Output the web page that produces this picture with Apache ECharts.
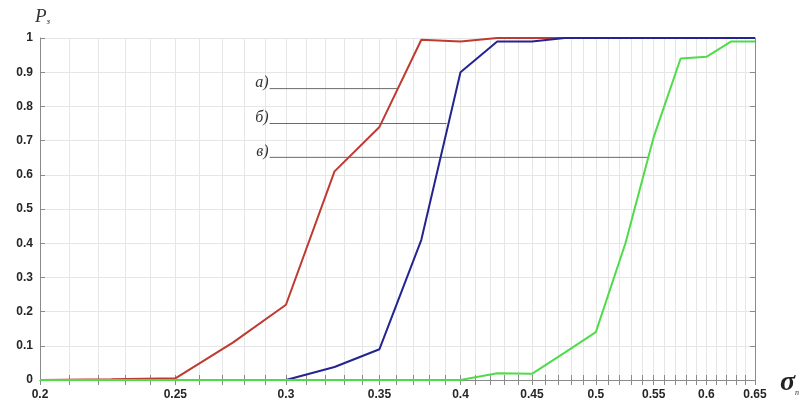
<!DOCTYPE html>
<html>
<head>
<meta charset="utf-8">
<script src="https://cdn.jsdelivr.net/npm/echarts@6/dist/echarts.min.js"></script>
<style>html,body{margin:0;padding:0;background:#fff}#c{width:803px;height:401px}</style>
</head>
<body>
<div id="c"></div>
<script>
// x values (sigma_n), log-spaced axis
const xValues = [0.2, 0.225, 0.25, 0.275, 0.3, 0.325, 0.35, 0.375, 0.4, 0.425, 0.45, 0.475, 0.5, 0.525, 0.55, 0.575, 0.6, 0.625, 0.65];
const seriesA = [0, 0.002, 0.005, 0.11, 0.22, 0.61, 0.74, 0.995, 0.99, 1.0, 1.0, 1.0, 1.0, 1.0, 1.0, 1.0, 1.0, 1.0, 1.0];
const seriesB = [0, 0, 0, 0, 0, 0.038, 0.09, 0.41, 0.90, 0.99, 0.99, 1.0, 1.0, 1.0, 1.0, 1.0, 1.0, 1.0, 1.0];
const seriesC = [0, 0, 0, 0, 0, 0, 0, 0, 0, 0.02, 0.018, 0.08, 0.14, 0.40, 0.71, 0.94, 0.945, 0.99, 0.99];
const xTickLabels = [0.2, 0.25, 0.3, 0.35, 0.4, 0.45, 0.5, 0.55, 0.6, 0.65];
const yTickLabels = [0, 0.1, 0.2, 0.3, 0.4, 0.5, 0.6, 0.7, 0.8, 0.9, 1];
// annotation leader lines: [label, y, xStart, xEnd]
const annotations = [
  ['а)', 0.852, 0.292, 0.361],
  ['б)', 0.750, 0.292, 0.391],
  ['в)', 0.651, 0.292, 0.545]
];
const minorTicks = [];
for (let i = 20; i <= 65; i++) minorTicks.push(i / 100);

const pair = (ys) => xValues.map((x, i) => [x, ys[i]]);
const lineStyleBase = { width: 2 };
const series = [];
annotations.forEach(a => {
  series.push({
    type: 'line', xAxisIndex: 0, yAxisIndex: 0, symbol: 'none', silent: true,
    data: [[a[2], a[1]], [a[3], a[1]]],
    lineStyle: { color: '#6a6a6a', width: 1 },
    z: 1,
    markPoint: {
      symbol: 'circle', symbolSize: 0,
      data: [{ coord: [a[2], a[1]], value: a[0] }],
      label: {
        show: true, formatter: a[0], position: 'left', distance: 1, offset: [0, -6],
        fontFamily: 'Liberation Serif', fontStyle: 'italic', fontSize: 16, color: '#333'
      }
    }
  });
});
series.push({ type: 'line', symbol: 'none', data: pair(seriesA), lineStyle: Object.assign({ color: '#bf3a30' }, lineStyleBase), z: 3 });
series.push({ type: 'line', symbol: 'none', data: pair(seriesB), lineStyle: Object.assign({ color: '#24248f' }, lineStyleBase), z: 4 });
series.push({ type: 'line', symbol: 'none', data: pair(seriesC), lineStyle: Object.assign({ color: '#4fdc4a' }, lineStyleBase), z: 5 });

const chart = echarts.init(document.getElementById('c'), null, { renderer: 'canvas' });
chart.setOption({
  animation: false,
  backgroundColor: '#fff',
  grid: { left: 40, right: 48, top: 38, bottom: 19, containLabel: false },
  xAxis: [
    {
      type: 'log', min: 0.2, max: 0.65, position: 'bottom',
      axisLine: { show: true, lineStyle: { color: '#8a8a8a', width: 1 } },
      axisTick: { show: true, inside: true, length: 5, customValues: minorTicks, lineStyle: { color: '#8a8a8a' } },
      axisLabel: { customValues: xTickLabels, formatter: v => String(+v.toFixed(3)), fontFamily: 'Liberation Sans', fontWeight: 'bold', fontSize: 12, color: '#262626', margin: 9 },
      splitLine: { show: true, lineStyle: { color: '#e6e6e6', width: 1 } }
    },
    {
      type: 'log', min: 0.2, max: 0.65, position: 'top',
      axisLine: { show: true, lineStyle: { color: '#8a8a8a', width: 1 } },
      axisTick: { show: true, inside: true, length: 5, customValues: minorTicks, lineStyle: { color: '#8a8a8a' } },
      axisLabel: { show: false },
      splitLine: { show: false }
    }
  ],
  yAxis: [
    {
      type: 'value', min: 0, max: 1, interval: 0.1, position: 'left',
      axisLine: { show: true, lineStyle: { color: '#8a8a8a', width: 1 } },
      axisTick: { show: true, inside: true, length: 5, lineStyle: { color: '#8a8a8a' } },
      axisLabel: { customValues: yTickLabels, formatter: v => String(+v.toFixed(2)), fontFamily: 'Liberation Sans', fontWeight: 'bold', fontSize: 12, color: '#262626', margin: 7 },
      splitLine: { show: true, lineStyle: { color: '#e6e6e6', width: 1 } }
    },
    {
      type: 'value', min: 0, max: 1, interval: 0.1, position: 'right',
      axisLine: { show: true, lineStyle: { color: '#8a8a8a', width: 1 } },
      axisTick: { show: true, inside: true, length: 5, lineStyle: { color: '#8a8a8a' } },
      axisLabel: { show: false },
      splitLine: { show: false }
    }
  ],
  graphic: [
    {
      type: 'text', left: 35, top: 7,
      style: {
        text: '{p|P}{s|з}',
        rich: {
          p: { fontFamily: 'Liberation Serif', fontStyle: 'italic', fontSize: 19, fill: '#333' },
          s: { fontFamily: 'Liberation Serif', fontStyle: 'italic', fontSize: 9, fill: '#333', verticalAlign: 'bottom', padding: [9, 0, 0, 0] }
        }
      }
    },
    {
      type: 'text', left: 780, top: 369,
      style: {
        text: '{p|σ}{s|п}',
        rich: {
          p: { fontFamily: 'Liberation Serif', fontStyle: 'italic', fontWeight: 'bold', fontSize: 28, fill: '#222' },
          s: { fontFamily: 'Liberation Serif', fontStyle: 'italic', fontSize: 8, fill: '#333', verticalAlign: 'bottom', padding: [14, 0, 0, 0] }
        }
      }
    }
  ],
  series: series
});
</script>
</body>
</html>
